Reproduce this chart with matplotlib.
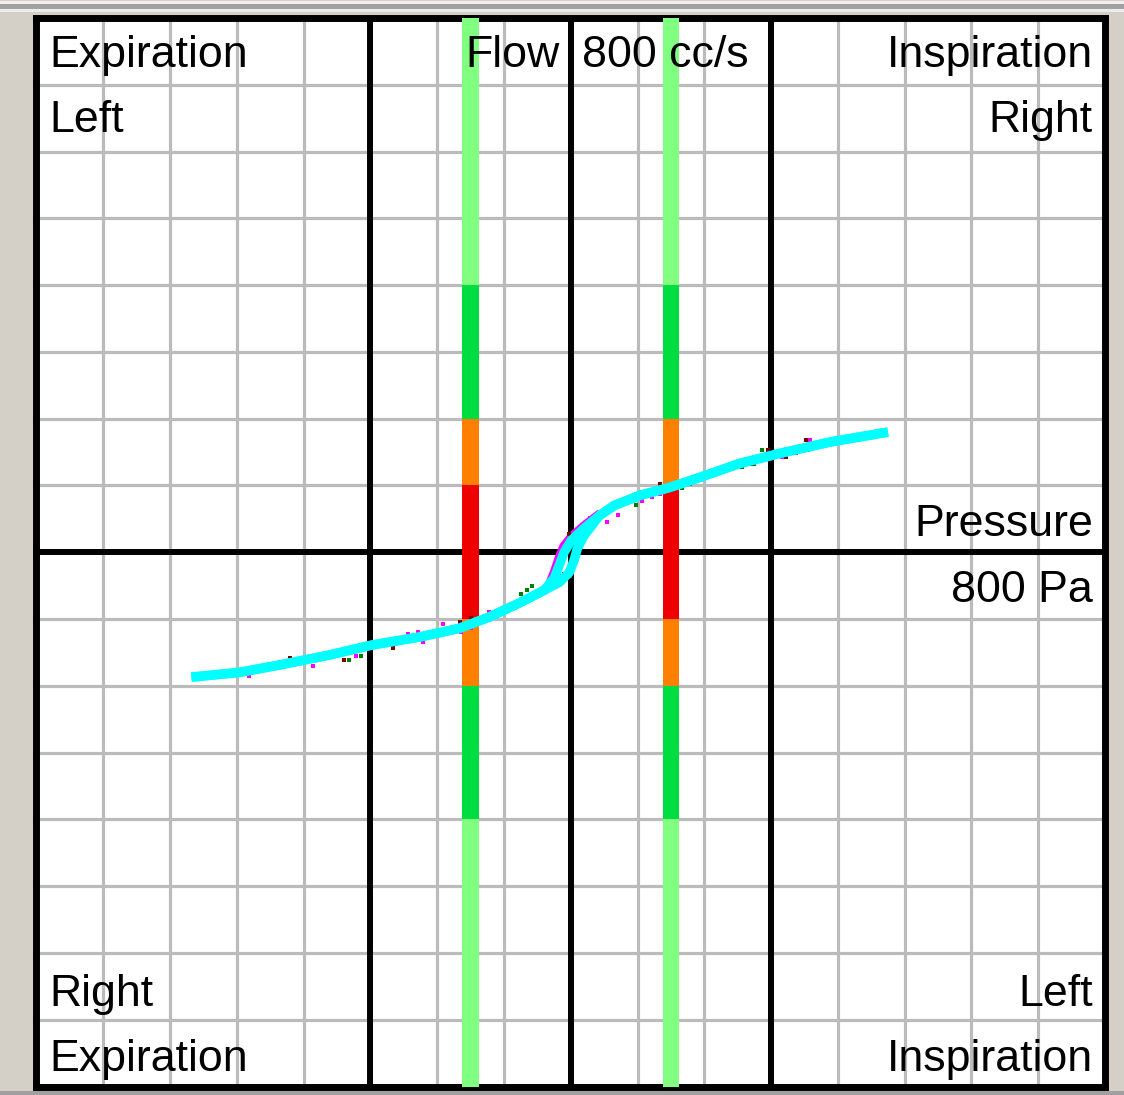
import matplotlib.pyplot as plt

# ── Data (pressure in Pa, flow in cc/s) ───────────────────
lower_p = [-568, -497, -437, -362, -298, -227, -167, -122, -77, -40]
lower_f = [-187, -180, -169, -154, -139, -127, -114, -97, -76, -57]
insp_mid_p = [-25, -17, -10, 1, 20, 43]
insp_mid_f = [-39, -19, 0, 18, 36, 55]
exp_mid_p = [-17, -2, 5, 10, 20, 43]
exp_mid_f = [-45, -30, -12, 6, 25, 55]
upper_p = [65, 103, 148, 193, 253, 313, 388, 475]
upper_f = [70, 85, 97, 112, 133, 148, 165, 180]

trace_p = [-35, -28, -22, -14, -2, 20, 40]
trace_f = [-45, -27, -9, 11, 26, 45, 60]

magenta_p = [-482, -386, -356, -322, -290, -260, -244, -229, -221, -191, -164, -149, -122,
             71, 106, 121, 133, 214, 229, 245, 262, 317, 332, 358, 55, 29]
magenta_f = [-185, -170, -150, -155, -135, -129, -123, -119, -134, -108, -119, -114, -89,
             56, 77, 83, 87, 117, 123, 128, 132, 143, 149, 168, 45, 51]
darkred_p = [-436, -421, -383, -359, -340, -295, -266, -166, -149, 97, 133, 188, 268,
             295, 322, 338, 352, 355, -2, -17, -10]
darkred_f = [-164, -159, -155, -150, -161, -135, -144, -104, -98, 87, 102, 107, 132,
             153, 143, 149, 168, 153, 27, -36, -32]
green_p = [-332, -314, 166, 178, 97, 256, 275, 287, -1, -74, -65, -58]
green_f = [-161, -155, 96, 102, 71, 128, 132, 153, -35, -62, -57, -51]

bar_x = [-150, 150]
band_edges = [-800, -400, -200, -100, 100, 200, 400, 800]
band_colors = ["#80FF80", "#00DD40", "#FF8000", "#EE0000", "#FF8000", "#00DD40", "#80FF80"]

insp_p = lower_p + insp_mid_p + upper_p
insp_f = lower_f + insp_mid_f + upper_f
exp_p = lower_p + exp_mid_p + upper_p
exp_f = lower_f + exp_mid_f + upper_f

# ── Chart ──────────────────────────────────────────────────
fig = plt.figure(figsize=(11.24, 10.95), dpi=100)
fig.patch.set_facecolor("#D4D0C8")
ax = fig.add_axes([0.03247, 0.00776, 0.95062, 0.97580])
ax.set_xlim(-800, 800)
ax.set_ylim(-800, 800)
ax.set_facecolor("white")

ticks = list(range(-700, 800, 100))
ax.set_xticks(ticks)
ax.set_yticks(ticks)
ax.tick_params(length=0, labelbottom=False, labelleft=False)
ax.grid(True, color="#BBBBBB", linewidth=2.3, zorder=1)
ax.set_axisbelow(True)

for xv in [-300, 0, 300]:
    ax.axvline(xv, color="black", linewidth=4.3, zorder=2)
ax.axhline(0, color="black", linewidth=4.3, zorder=2)

for i, c in enumerate(band_colors):
    ax.bar(bar_x, band_edges[i + 1] - band_edges[i], bottom=band_edges[i],
           width=25, color=c, linewidth=0, zorder=3)

ax.plot(trace_p, trace_f, color="#FF00FF", linewidth=2.5, zorder=4)
ax.plot(magenta_p, magenta_f, "s", color="#FF00FF", markersize=2.6, markeredgewidth=0, zorder=4)
ax.plot(darkred_p, darkred_f, "s", color="#800000", markersize=2.6, markeredgewidth=0, zorder=4)
ax.plot(green_p, green_f, "s", color="#008000", markersize=2.6, markeredgewidth=0, zorder=4)
ax.plot(insp_p, insp_f, color="#00FFFF", linewidth=6.8, solid_capstyle="butt", zorder=5)
ax.plot(exp_p, exp_f, color="#00FFFF", linewidth=6.8, solid_capstyle="butt", zorder=5)

for s in ax.spines.values():
    s.set_linewidth(5)
    s.set_color("black")

fs = 32.2
kw = dict(fontsize=fs, family="Liberation Sans", va="baseline", zorder=6, color="black")
ax.text(-781, 727, "Expiration", ha="left", **kw)
ax.text(-781, 630, "Left", ha="left", **kw)
ax.text(-781, -680, "Right", ha="left", **kw)
ax.text(-781, -777, "Expiration", ha="left", **kw)
ax.text(782, 727, "Inspiration", ha="right", **kw)
ax.text(782, 630, "Right", ha="right", **kw)
ax.text(782, -680, "Left", ha="right", **kw)
ax.text(782, -777, "Inspiration", ha="right", **kw)
ax.text(782, 25, "Pressure", ha="right", **kw)
ax.text(782, -75, "800 Pa", ha="right", **kw)
ax.text(-16, 727, "Flow", ha="right", **kw)
ax.text(17, 727, "800 cc/s", ha="left", **kw)

# window frame lines
fig.add_artist(plt.Line2D([0, 1], [1 - 1.5 / 1095, 1 - 1.5 / 1095], color="#F0F0F0",
                          linewidth=2.2, transform=fig.transFigure))
fig.add_artist(plt.Line2D([0, 1], [1 - 5.5 / 1095, 1 - 5.5 / 1095], color="#A0A0A0",
                          linewidth=3.6, transform=fig.transFigure))
fig.add_artist(plt.Line2D([0, 1], [1 - 9.5 / 1095, 1 - 9.5 / 1095], color="#ECECEC",
                          linewidth=2.2, transform=fig.transFigure))
fig.add_artist(plt.Line2D([0, 1], [2 / 1095, 2 / 1095], color="#A0A0A0",
                          linewidth=2.9, transform=fig.transFigure))

fig.savefig("out.png", dpi=100)
